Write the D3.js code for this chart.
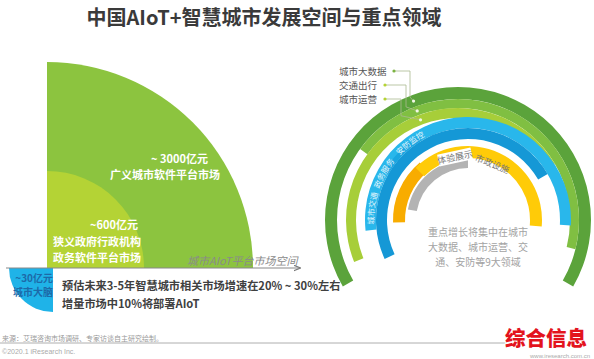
<!DOCTYPE html>
<html><head><meta charset="utf-8">
<script src="https://cdn.jsdelivr.net/npm/d3@7"></script>
<style>body{margin:0;background:#fff;} svg{display:block;font-family:"Noto Sans CJK SC","Noto Sans",sans-serif;}</style>
</head><body><svg id="c" width="594" height="359"></svg>
<script>
// ---------- data ----------
const title = "中国AIoT+智慧城市发展空间与重点领域";
const marketValues = [3000, 600, 30];
const marketValueLabels = ["~ 3000亿元", "~600亿元", "~30亿元"];
const marketNames = [["广义城市软件平台市场"], ["狭义政府行政机构", "政务软件平台市场"], ["城市大脑"]];
const axisLabel = "城市AIoT平台市场空间";
const noteLines = ["预估未来3-5年智慧城市相关市场增速在20% ~ 30%左右", "增量市场中10%将部署AIoT"];
const fieldNames = ["城市大数据", "交通出行", "城市运营", "安防监控", "政务服务", "城市交通", "", "市政设施", "体验展示"];
const summaryLines = ["重点增长将集中在城市", "大数据、城市运营、交", "通、安防等9大领域"];
const sourceText = "来源：艾瑞咨询市场调研、专家访谈自主研究绘制。";
const copyrightText = "©2020.1 iResearch Inc.";
const brandText = "综合信息";
const brandUrl = "www.iresearch.com.cn";

// ---------- setup ----------
const svg = d3.select("#c");
const defs = svg.append("defs");
const rad = d => d * Math.PI / 180;

svg.append("text").attr("x", 264).attr("y", 25).attr("text-anchor", "middle")
  .attr("font-size", 20).attr("font-weight", 700).attr("fill", "#3a3a3a").text(title);

// ---------- left: market space quarters ----------
const rScale = d3.scaleLinear().domain([30, 600, 3000]).range([44, 97, 206]);
const qColors = ["#8cc43f", "#b4d335", "#1fb3e8"];
const qCenters = [[47, 268], [47, 268], [53, 268]];
const qAngles = [[0, 90], [0, 90], [180, 270]];
const left = svg.append("g");
marketValues.forEach((v, i) => {
  left.append("path")
    .attr("transform", `translate(${qCenters[i][0]},${qCenters[i][1]})`)
    .attr("d", d3.arc()({innerRadius: 0, outerRadius: rScale(v), startAngle: rad(qAngles[i][0]), endAngle: rad(qAngles[i][1])}))
    .attr("fill", qColors[i]);
});

// axis line with arrow
defs.append("marker").attr("id", "arr").attr("viewBox", "0 0 10 10")
  .attr("refX", 9).attr("refY", 5).attr("markerWidth", 7).attr("markerHeight", 7).attr("orient", "auto")
  .append("path").attr("d", "M0,1 L10,5 L0,9").attr("fill", "none").attr("stroke", "#777").attr("stroke-width", 1.5);
svg.append("line").attr("x1", 6).attr("x2", 300).attr("y1", 268).attr("y2", 268)
  .attr("stroke", "#888").attr("stroke-width", 1).attr("marker-end", "url(#arr)");
svg.append("text").attr("x", 187).attr("y", 265).attr("font-size", 11).attr("font-style", "italic")
  .attr("fill", "#8a8a8a").text(axisLabel);

// labels in quarters
const wt = (x, y, s, anchor, fill, size) => svg.append("text").attr("x", x).attr("y", y)
  .attr("text-anchor", anchor || "start").attr("font-size", size || 11).attr("font-weight", 700)
  .attr("fill", fill || "#fff").text(s);
wt(208, 163, marketValueLabels[0], "end");
wt(110, 179, marketNames[0][0]);
wt(138, 229, marketValueLabels[1], "end");
wt(53, 246, marketNames[1][0]);
wt(53, 262, marketNames[1][1]);
wt(53, 281.5, marketValueLabels[2], "end", "#1d6aa8", 10);
wt(53, 296, marketNames[2][0], "end", "#1d6aa8", 10);

// ---------- right: key field rings ----------
const ringIdx = d3.range(9);
const ringColor = d3.scaleOrdinal().domain(ringIdx)
  .range(["#5ba33b", "#80bf42", "#a7ce39", "#29b7eb", "#1598d6", "#1aa6e0", "#f8ac00", "#ffcb08", "#b3b3b3"]);
const ringLayout = [
  {cx: 458, r0: 121, r1: 133, a0: -120, a1: 120},
  {cx: 458, r0: 112, r1: 121, a0: -54, a1: 104},
  {cx: 458, r0: 102, r1: 112, a0: -112, a1: 60},
  {cx: 468, r0: 92, r1: 103, a0: -96, a1: 93},
  {cx: 468, r0: 81, r1: 92, a0: -115, a1: 60},
  {cx: 468, r0: 92, r1: 97, a0: -60, a1: -30},
  {cx: 468, r0: 63, r1: 75, a0: -92, a1: -40},
  {cx: 468, r0: 62, r1: 74, a0: -45, a1: 95},
  {cx: 468, r0: 52, r1: 61, a0: -80, a1: 0}
];
const cy = 220;
const rings = svg.append("g");
ringIdx.forEach(i => {
  const L = ringLayout[i];
  rings.append("path").attr("transform", `translate(${L.cx},${cy})`)
    .attr("d", d3.arc()({innerRadius: L.r0, outerRadius: L.r1, startAngle: rad(L.a0), endAngle: rad(L.a1)}))
    .attr("fill", ringColor(i));
});

// note text (drawn above rings)
wt(62, 290, noteLines[0], "start", "#404040", 11.2);
wt(62, 308, noteLines[1], "start", "#404040", 11.2);

// leader labels for the three green rings
const leadY = [71, 85, 99], leadVX = [410, 406, 401];
[0, 1, 2].forEach(i => {
  const L = ringLayout[i];
  const a = rad(-20.5), rm = (L.r0 + L.r1) / 2;
  const px = L.cx + rm * Math.sin(a), py = cy - rm * Math.cos(a);
  const dotX = i === 0 ? 394 : 385;
  svg.append("polyline").attr("points", `${dotX},${leadY[i]} ${leadVX[i]},${leadY[i]} ${leadVX[i]},${py - 4} ${px},${py}`)
    .attr("fill", "none").attr("stroke", "#a9b98f").attr("stroke-width", 0.8);
  svg.append("circle").attr("cx", dotX).attr("cy", leadY[i]).attr("r", 1.6).attr("fill", i === 0 ? "#7cb342" : "#b5d334");
  svg.append("circle").attr("cx", px).attr("cy", py).attr("r", 1.6).attr("fill", "#f2f7e6");
  svg.append("text").attr("x", 339).attr("y", leadY[i] + 3.5)
    .attr("font-size", 9.5).attr("fill", "#555").text(fieldNames[i]);
});

// blue ring labels along arc
const lblR = 94;
const arcPath = (cx, r, d0, d1) => {
  const a0 = rad(d0), a1 = rad(d1);
  return `M${cx + r * Math.sin(a0)},${cy - r * Math.cos(a0)} A${r},${r} 0 0 1 ${cx + r * Math.sin(a1)},${cy - r * Math.cos(a1)}`;
};
defs.append("path").attr("id", "bluePath").attr("d", arcPath(468, lblR, -110, -10));
const blueOffsets = ["73%", "49%", "27%"];
[3, 4, 5].forEach((i, k) => {
  svg.append("text").attr("font-size", 8).attr("fill", "#e4f5fc")
    .append("textPath").attr("href", "#bluePath").attr("startOffset", blueOffsets[k])
    .attr("text-anchor", "middle").text(fieldNames[i]);
});

// inner ring labels
const g1 = svg.append("g").attr("transform", "translate(455,157) rotate(-12)");
g1.append("rect").attr("x", -17).attr("y", -6).attr("width", 34).attr("height", 12).attr("fill", "#fff");
g1.append("text").attr("text-anchor", "middle").attr("y", 3.5).attr("font-size", 9).attr("fill", "#777").text(fieldNames[8]);
svg.append("text").attr("transform", "translate(491,167) rotate(22)").attr("text-anchor", "middle")
  .attr("font-size", 9).attr("fill", "#777").text(fieldNames[7]);

// summary in centre
summaryLines.forEach((s, i) => {
  svg.append("text").attr("x", 478).attr("y", 236 + i * 15).attr("text-anchor", "middle")
    .attr("font-size", 10).attr("fill", "#a3a3a3").text(s);
});

// ---------- footer ----------
svg.append("line").attr("x1", 0).attr("x2", 520).attr("y1", 343).attr("y2", 343).attr("stroke", "#999").attr("stroke-width", 0.8);
svg.append("text").attr("x", 2).attr("y", 340.5).attr("font-size", 7).attr("fill", "#999").text(sourceText);
svg.append("text").attr("x", 2).attr("y", 354).attr("font-size", 7).attr("fill", "#aaa").attr("font-family", "Arial, Liberation Sans").text(copyrightText);
svg.append("text").attr("x", 546).attr("y", 346).attr("text-anchor", "middle").attr("font-size", 20.5).attr("font-weight", 900)
  .attr("fill", "#e3141d").attr("stroke", "#fff").attr("stroke-width", 2).attr("paint-order", "stroke").text(brandText);
svg.append("text").attr("x", 590).attr("y", 358).attr("text-anchor", "end").attr("font-size", 6)
  .attr("font-family", "Liberation Sans, Arial").attr("fill", "#aaa").text(brandUrl);
</script></body></html>
